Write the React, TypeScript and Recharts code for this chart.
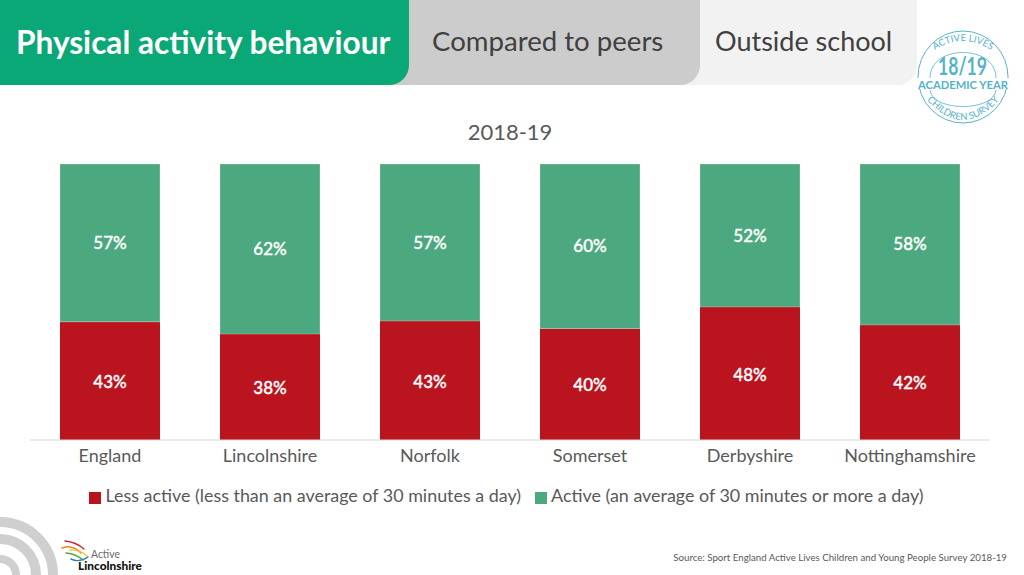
import React from 'react';
import { BarChart, Bar, XAxis, YAxis, LabelList, Legend } from 'recharts';

const areas = ['England', 'Lincolnshire', 'Norfolk', 'Somerset', 'Derbyshire', 'Nottinghamshire'];
const lessActive = [42.8, 38.4, 43.1, 40.4, 48.2, 41.7];
const active = [57.2, 61.6, 56.9, 59.6, 51.8, 58.3];

const LESS_NAME = 'Less active (less than an average of 30 minutes a day)';
const ACTIVE_NAME = 'Active (an average of 30 minutes or more a day)';

const chartData = areas.map((area, i) => ({
  area,
  less: lessActive[i],
  active: active[i],
}));

const FONT = 'Lato, "Open Sans", sans-serif';
const TEXT = '#595959';
const BADGE = '#56b3c8';

const pct = (v: any) => `${Math.round(Number(v))}%`;

const Tab = ({ left, width, bg, color, size, weight, text, textLeft, z, top }: any) => (
  <div
    style={{
      position: 'absolute',
      left,
      top: 0,
      width,
      height: 85,
      background: bg,
      borderBottomRightRadius: 20,
      zIndex: z,
    }}
  >
    <div
      style={{
        position: 'absolute',
        left: textLeft,
        top,
        color,
        fontSize: size,
        fontWeight: weight,
        whiteSpace: 'nowrap',
      }}
    >
      {text}
    </div>
  </div>
);

const Decor = () => (
  <svg width={1024} height={575} style={{ position: 'absolute', left: 0, top: 0, zIndex: 4, pointerEvents: 'none' }}>
    <defs>
      <path id="badgeTop" d="M 935 50 Q 963 32 991 50" />
      <path id="badgeBottom" d="M 926 99 Q 963 141 1000 99" />
    </defs>
    {/* survey badge */}
    <ellipse cx={963} cy={77} rx={45} ry={46} fill="#fff" stroke={BADGE} strokeWidth={1} />
    <path d="M 930 78 C 930 44 996 44 996 78" fill="none" stroke={BADGE} strokeWidth={0.8} />
    <path d="M 930 90 C 932 112 994 112 996 90" fill="none" stroke={BADGE} strokeWidth={0.8} />
    <rect x={916} y={78} width={94} height={11} fill="#fff" />
    <text fontSize={9.5} fill={BADGE} fontFamily={FONT}>
      <textPath href="#badgeTop" startOffset="50%" textAnchor="middle">ACTIVE LIVES</textPath>
    </text>
    <text fontSize={9.5} fill={BADGE} fontFamily={FONT}>
      <textPath href="#badgeBottom" startOffset="50%" textAnchor="middle">CHILDREN SURVEY</textPath>
    </text>
    <text x={962.5} y={74.5} textAnchor="middle" fontSize={24} fontWeight={700} fill={BADGE} fontFamily={FONT} textLength={49} lengthAdjust="spacingAndGlyphs">18/19</text>
    <text x={963} y={89} textAnchor="middle" fontSize={11.5} fontWeight={700} fill={BADGE} fontFamily={FONT} textLength={90} lengthAdjust="spacingAndGlyphs">ACADEMIC YEAR</text>

    {/* rings bottom left */}
    <g fill="none" stroke="#cfcfcf">
      <circle cx={0} cy={575} r={53} strokeWidth={10} />
      <circle cx={0} cy={575} r={36} strokeWidth={10} />
      <circle cx={0} cy={575} r={16} strokeWidth={8} />
    </g>

    {/* Active Lincolnshire logo */}
    <g fill="none" strokeWidth={1.4} strokeLinecap="round">
      <path d="M 65 541 Q 76 542 84 549" stroke="#c8202f" />
      <path d="M 62 548 Q 72 544 81 553" stroke="#e9862a" />
      <path d="M 70 550 Q 79 549 87 556" stroke="#e6c629" />
      <path d="M 66 553 Q 76 554 83 560" stroke="#5aa63f" />
      <path d="M 71 559 Q 79 563 88 557" stroke="#2a7fb8" />
    </g>
    <text x={91} y={557.5} fontSize={10.5} fill="#6a6a6a" fontFamily={FONT} textLength={29} lengthAdjust="spacingAndGlyphs">Active</text>
    <text x={78} y={569.5} fontSize={10.5} fontWeight={900} fill="#111" fontFamily={FONT} textLength={64} lengthAdjust="spacingAndGlyphs">Lincolnshire</text>
  </svg>
);

export default function App() {
  return (
    <div
      style={{
        position: 'absolute',
        left: 0,
        top: 0,
        width: 1024,
        height: 575,
        background: '#fff',
        overflow: 'hidden',
        fontFamily: FONT,
      }}
    >
      <Tab left={0} width={409} bg="#0aa876" color="#fff" size={31.6} weight={700} text="Physical activity behaviour" textLeft={16} top={23} z={3} />
      <Tab left={380} width={320} bg="#cccccc" color="#404040" size={27.6} weight={400} text="Compared to peers" textLeft={52} top={24} z={2} />
      <Tab left={640} width={277} bg="#f2f2f2" color="#404040" size={27} weight={400} text="Outside school" textLeft={75} top={24} z={1} />

      <div style={{ position: 'absolute', left: 0, width: 1020, top: 118, textAlign: 'center', fontSize: 22, color: TEXT }}>
        2018-19
      </div>

      <div style={{ position: 'absolute', left: 0, top: 0, zIndex: 3 }}>
        <BarChart
          width={1024}
          height={575}
          data={chartData}
          barCategoryGap={30}
          margin={{ top: 164, right: 34, bottom: 67, left: 30 }}
        >
          <XAxis
            dataKey="area"
            axisLine={{ stroke: '#d9d9d9' }}
            tickLine={false}
            height={44}
            tickMargin={3}
            tick={{ fontSize: 18, fill: TEXT, fontFamily: FONT }}
            interval={0}
          />
          <YAxis hide domain={[0, 100]} />
          <Legend
            verticalAlign="bottom"
            height={24}
            iconType="square"
            iconSize={12}
            itemSorter={null}
            wrapperStyle={{ left: 33.5 }}
            formatter={(value) => (
              <span style={{ color: TEXT, fontSize: 17.9, fontFamily: FONT, paddingRight: 4 }}>{value}</span>
            )}
          />
          <Bar dataKey="less" name={LESS_NAME} stackId="a" fill="#ba141f" isAnimationActive={false}>
            <LabelList dataKey="less" position="center" formatter={pct} fill="#fff" stroke="#fff" strokeWidth={0.35} fontSize={17} fontWeight={500} fontFamily={FONT} dy={1} />
          </Bar>
          <Bar dataKey="active" name={ACTIVE_NAME} stackId="a" fill="#4ca87f" stroke="#ffffff" strokeOpacity={0.35} strokeWidth={0.75} isAnimationActive={false}>
            <LabelList dataKey="active" position="center" formatter={pct} fill="#fff" stroke="#fff" strokeWidth={0.35} fontSize={17} fontWeight={500} fontFamily={FONT} />
          </Bar>
        </BarChart>
      </div>

      <div style={{ position: 'absolute', right: 17, top: 551, fontSize: 9.7, color: TEXT, whiteSpace: 'nowrap' }}>
        Source: Sport England Active Lives Children and Young People Survey 2018-19
      </div>

      <Decor />
    </div>
  );
}
